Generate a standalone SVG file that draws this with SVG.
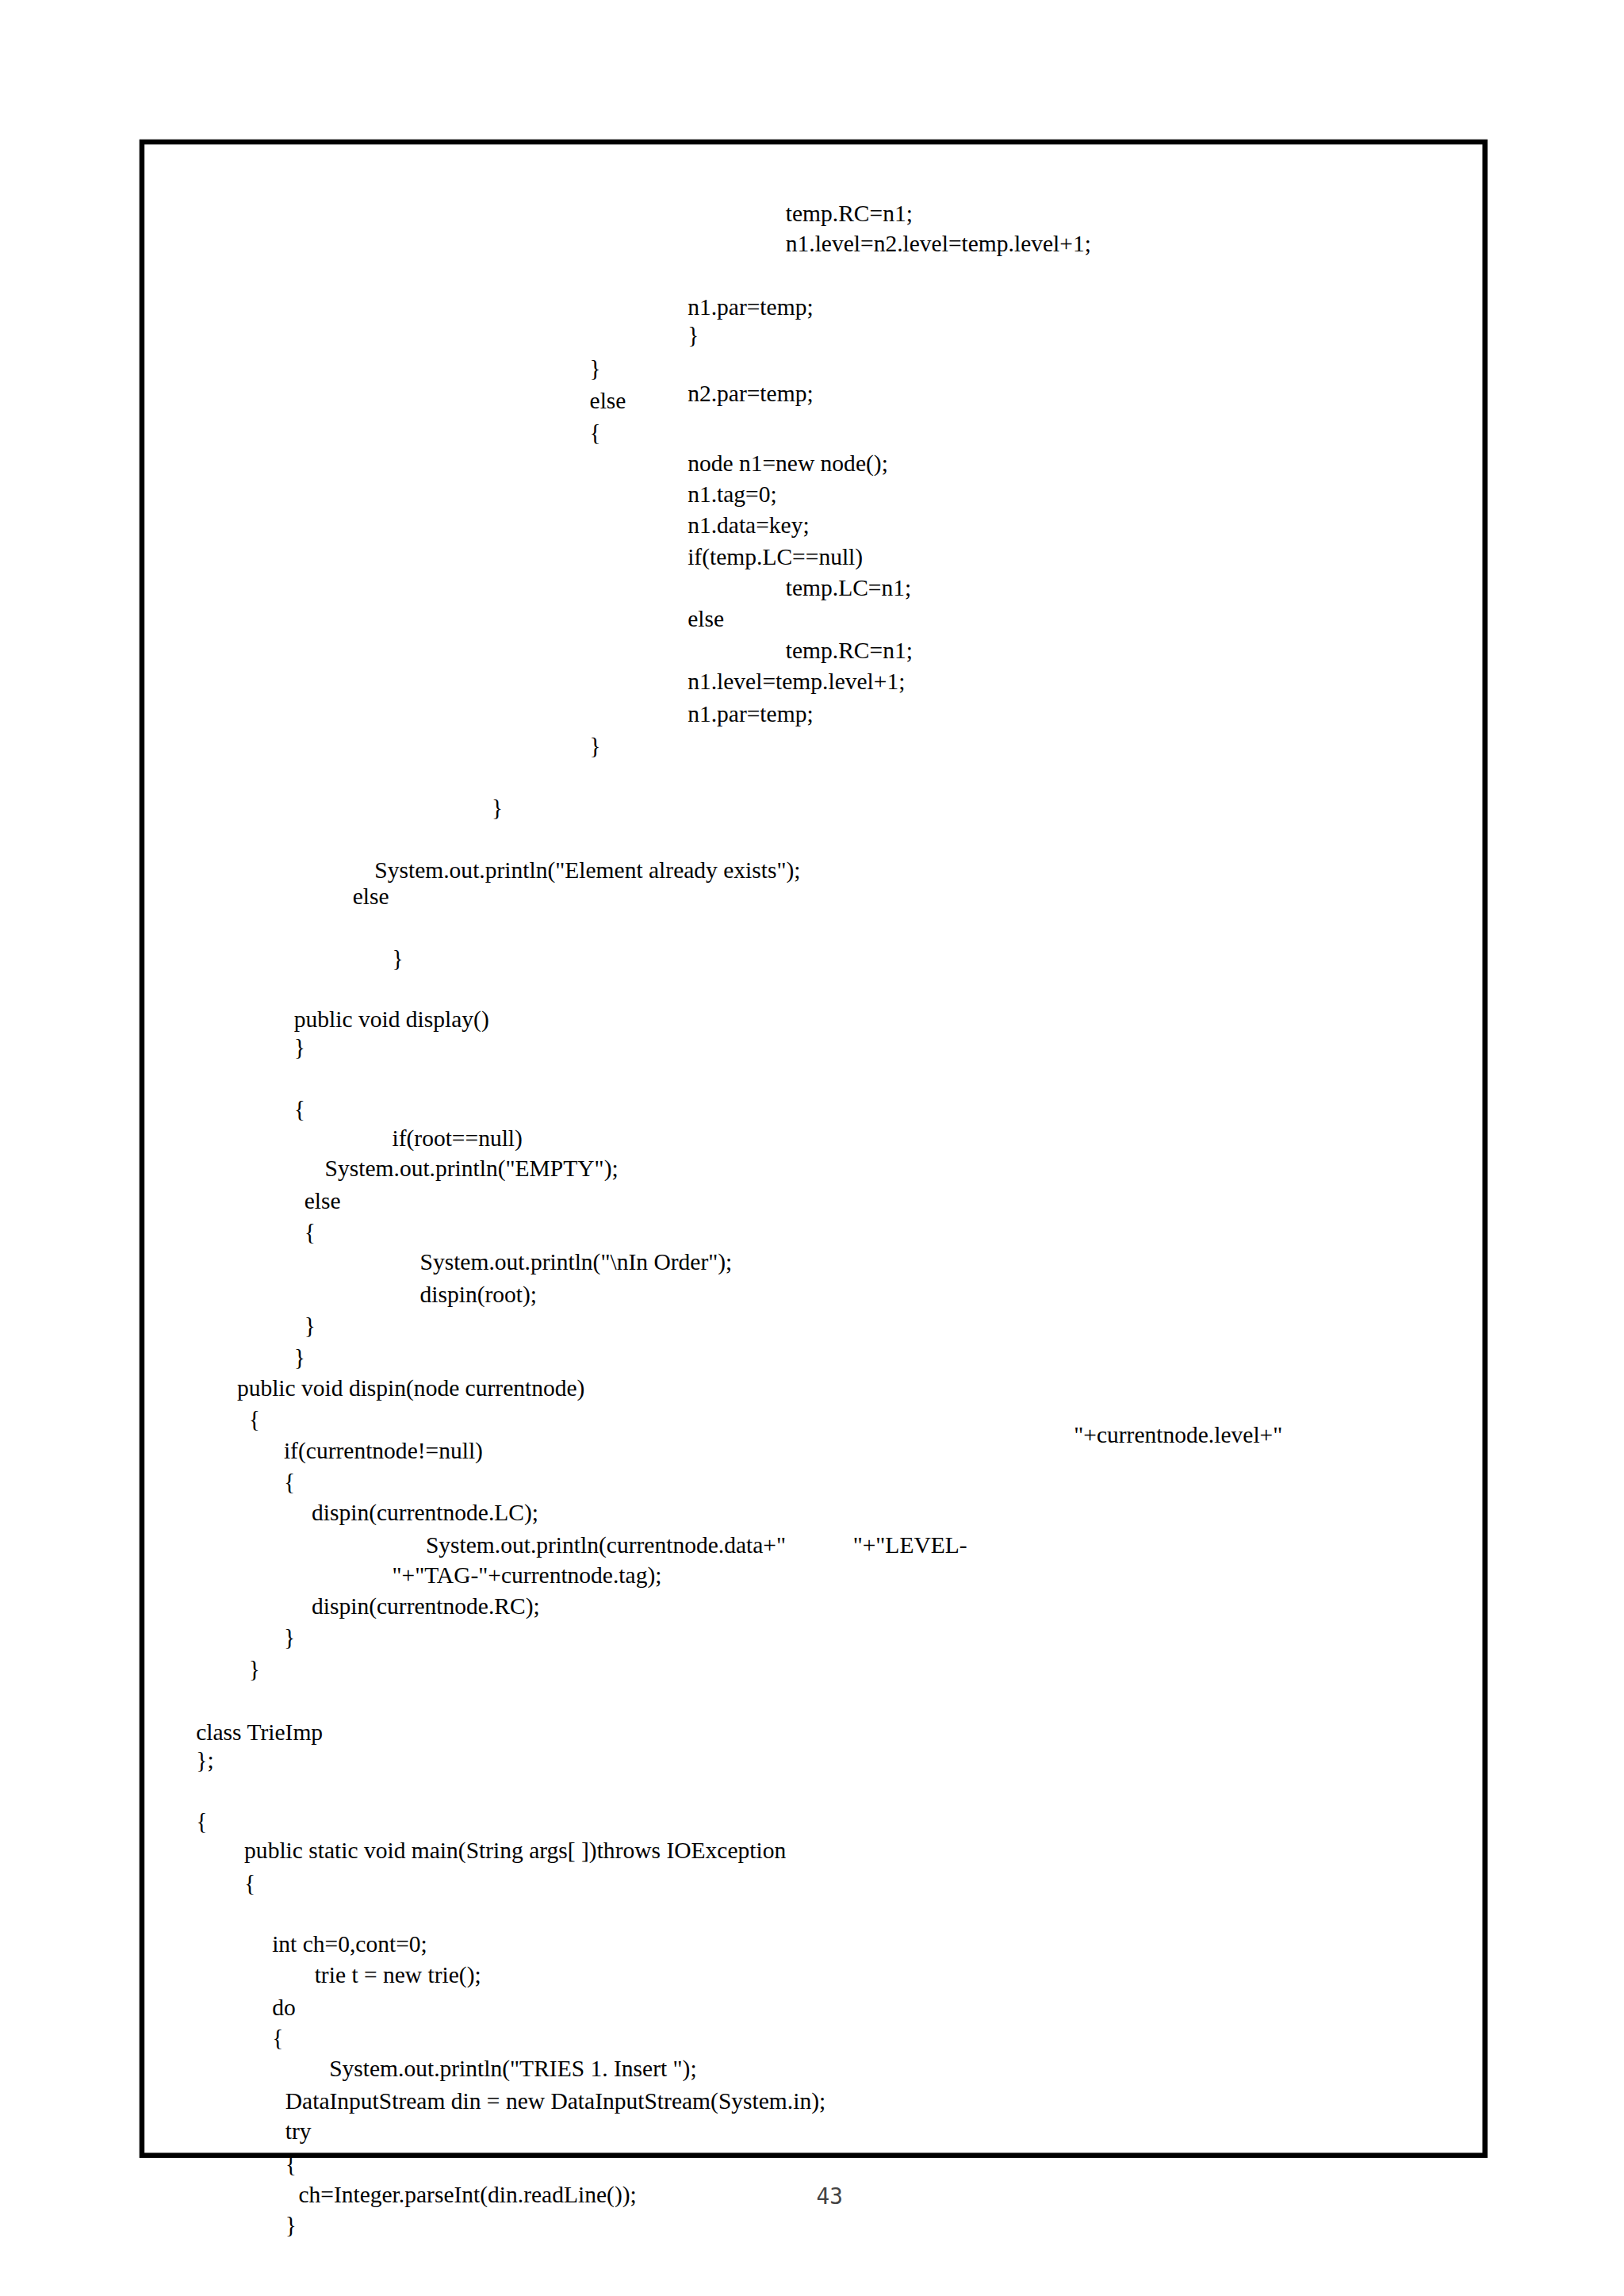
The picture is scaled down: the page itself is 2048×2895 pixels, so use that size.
<svg xmlns="http://www.w3.org/2000/svg" width="2048" height="2895" viewBox="0 0 2048 2895">
<style>
text{font-family:"Liberation Serif","Times New Roman",serif;font-size:16px;fill:#000}
.pg{font-family:"DejaVu Sans Mono","Liberation Mono",monospace;font-size:15px;fill:#444}
</style>
<rect width="2048" height="2895" fill="#fff"/>
<g transform="scale(1.845)">
<rect id="frame" x="97" y="97" width="918" height="1376" fill="none" stroke="#000" stroke-width="3.5"/>
<g id="code">
<text x="537" y="151">temp.RC=n1;</text>
<text x="537" y="172">n1.level=n2.level=temp.level+1;</text>
<text x="470" y="215">n1.par=temp;</text>
<text x="470" y="234">}</text>
<text x="403" y="257">}</text>
<text x="403" y="279">else</text>
<text x="470" y="274">n2.par=temp;</text>
<text x="403" y="301">{</text>
<text x="470" y="322">node n1=new node();</text>
<text x="470" y="343">n1.tag=0;</text>
<text x="470" y="364">n1.data=key;</text>
<text x="470" y="386">if(temp.LC==null)</text>
<text x="537" y="407">temp.LC=n1;</text>
<text x="470" y="428">else</text>
<text x="537" y="450">temp.RC=n1;</text>
<text x="470" y="471">n1.level=temp.level+1;</text>
<text x="470" y="493">n1.par=temp;</text>
<text x="403" y="515">}</text>
<text x="336" y="557">}</text>
<text x="256" y="600">System.out.println("Element already exists");</text>
<text x="241" y="618">else</text>
<text x="268" y="660">}</text>
<text x="201" y="702">public void display()</text>
<text x="201" y="721">}</text>
<text x="201" y="763">{</text>
<text x="268" y="783">if(root==null)</text>
<text x="222" y="804">System.out.println("EMPTY");</text>
<text x="208" y="826">else</text>
<text x="208" y="847">{</text>
<text x="287" y="868">System.out.println("\nIn Order");</text>
<text x="287" y="890">dispin(root);</text>
<text x="208" y="911">}</text>
<text x="201" y="933">}</text>
<text x="162" y="954">public void dispin(node currentnode)</text>
<text x="170" y="975">{</text>
<text x="734" y="986">"+currentnode.level+"</text>
<text x="194" y="997">if(currentnode!=null)</text>
<text x="194" y="1018">{</text>
<text x="213" y="1039">dispin(currentnode.LC);</text>
<text x="291" y="1061">System.out.println(currentnode.data+"</text>
<text x="583" y="1061">"+"LEVEL-</text>
<text x="268" y="1082">"+"TAG-"+currentnode.tag);</text>
<text x="213" y="1103">dispin(currentnode.RC);</text>
<text x="194" y="1124">}</text>
<text x="170" y="1146">}</text>
<text x="134" y="1189">class TrieImp</text>
<text x="134" y="1208">};</text>
<text x="134" y="1250">{</text>
<text x="167" y="1270">public static void main(String args[ ])throws IOException</text>
<text x="167" y="1292">{</text>
<text x="186" y="1334">int ch=0,cont=0;</text>
<text x="215" y="1355">trie t = new trie();</text>
<text x="186" y="1377">do</text>
<text x="186" y="1398">{</text>
<text x="225" y="1419">System.out.println("TRIES 1. Insert ");</text>
<text x="195" y="1441">DataInputStream din = new DataInputStream(System.in);</text>
<text x="195" y="1462">try</text>
<text x="195" y="1484">{</text>
<text x="204" y="1505">ch=Integer.parseInt(din.readLine());</text>
<text x="195" y="1526">}</text>
<text class="pg" x="558" y="1506">43</text>
</g>
</g>
</svg>
